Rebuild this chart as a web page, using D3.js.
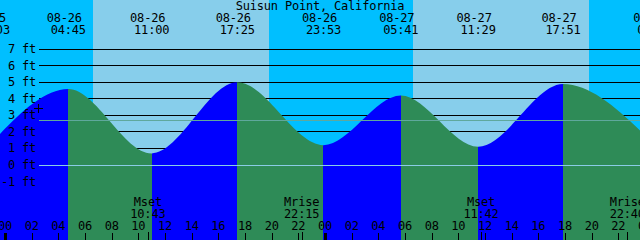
<!DOCTYPE html>
<html><head><meta charset="utf-8">
<script src="https://cdn.jsdelivr.net/npm/d3@7"></script>
<style>
html,body{margin:0;padding:0;background:#fff;overflow:hidden}
svg{display:block}
text{font-family:"DejaVu Sans Mono",monospace;font-size:12px;fill:#000;letter-spacing:-0.2px}
</style>
</head><body>
<svg id="c" width="640" height="240"></svg>
<script>
// ---------- data ----------
const title = "Suisun Point, California";
const tideDates   = ["08-25","08-26","08-26","08-26","08-26","08-27","08-27","08-27","08-28"];
const tideTimes   = ["23:03","04:45","11:00","17:25","23:53","05:41","11:29","17:51","00:44"];
const tideHeights = [1.4, 4.6, 0.7, 5.0, 1.2, 4.2, 1.1, 4.9, 1.2];
const sunDates  = ["08-26","08-26","08-27","08-27"];
const sunTimes  = ["06:36","19:48","06:36","19:46"];   // rise, set, rise, set
const moonLabels = ["Mset","Mrise","Mset","Mrise"];
const moonDates  = ["08-26","08-26","08-27","08-27"];
const moonTimes  = ["10:43","22:15","11:42","22:40"];
const levelTicks = [7,6,5,4,3,2,1,0,-1];
const gridLevels = [7,6,5,4,3,2,1];
const datumLevel = 0;
const meanLevel  = 2.7;
const markDate = "08-26", markTime = "02:27", markHeight = 3.47;
const viewStart = "08-25 23:37:30", viewEnd = "08-27 23:37:30";

// ---------- helpers ----------
const YEAR = "2000";
const parse = d3.timeParse("%Y-%m-%d %H:%M");
const parseS = d3.timeParse("%Y-%m-%d %H:%M:%S");
const toDate = (d,t) => parse(`${YEAR}-${d} ${t}`);

const W = 640, H = 240;
const x = d3.scaleTime()
  .domain([parseS(`${YEAR}-${viewStart}`), parseS(`${YEAR}-${viewEnd}`)])
  .range([0, W]);
const y = d3.scaleLinear().domain([0, 7]).range([165, 49.3]);

const svg = d3.select("#c");
const C = {night:"#00BFFF", day:"#87CEEB", flood:"#0000FF", ebb:"#2E8B57",
           datum:"#8ACCE6", mean:"#5FA89C", fg:"#000"};

// sky
svg.append("rect").attr("width",W).attr("height",H).attr("fill",C.night);
const sun = sunDates.map((d,i)=>toDate(d,sunTimes[i]));
for (let i=0;i<sun.length;i+=2){
  const x0 = Math.round(x(sun[i])), x1 = Math.round(x(sun[i+1]));
  svg.append("rect").attr("x",x0).attr("y",0).attr("width",x1-x0).attr("height",H)
     .attr("fill",C.day).attr("shape-rendering","crispEdges");
}

// grid lines
svg.append("g").selectAll("line").data(gridLevels).join("line")
  .attr("x1",39).attr("x2",W)
  .attr("y1",d=>Math.floor(y(d))+0.5).attr("y2",d=>Math.floor(y(d))+0.5)
  .attr("stroke",C.fg).attr("stroke-width",1).attr("shape-rendering","crispEdges");

// tide
const pts = tideDates.map((d,i)=>({date:toDate(d,tideTimes[i]), h:tideHeights[i]}));
const area = d3.area().x(d=>x(d.date)).y0(H).y1(d=>y(d.h)).curve(d3.curveMonotoneX);
svg.append("defs").append("clipPath").attr("id","tide")
  .append("path").attr("d", area(pts));
const tg = svg.append("g").attr("clip-path","url(#tide)");
for (let i=0;i<pts.length-1;i++){
  const x0 = Math.round(x(pts[i].date)), x1 = Math.round(x(pts[i+1].date));
  tg.append("rect").attr("x",x0).attr("y",0).attr("width",x1-x0).attr("height",H)
    .attr("fill", pts[i+1].h > pts[i].h ? C.flood : C.ebb)
    .attr("shape-rendering","crispEdges");
}

// datum & mean lines
[[datumLevel,C.datum],[meanLevel,C.mean]].forEach(([v,c])=>{
  svg.append("line").attr("x1",39).attr("x2",W)
    .attr("y1",Math.floor(y(v))+0.5).attr("y2",Math.floor(y(v))+0.5)
    .attr("stroke",c).attr("stroke-width",1).attr("shape-rendering","crispEdges");
});

// level labels
svg.append("g").selectAll("text").data(levelTicks).join("text")
  .attr("x",36).attr("y",d=>y(d)+4).attr("text-anchor","end")
  .text(d=>`${d} ft`);

// title
svg.append("text").attr("x",320).attr("y",10).attr("text-anchor","middle").text(title);

// high/low labels
const hl = svg.append("g");
pts.forEach((p,i)=>{
  const px = x(p.date);
  hl.append("text").attr("x",px-4).attr("y",22).attr("text-anchor","middle").text(tideDates[i]);
  hl.append("text").attr("x",px).attr("y",34).attr("text-anchor","middle").text(tideTimes[i]);
});

// moon labels
const mg = svg.append("g");
moonLabels.forEach((m,i)=>{
  const px = x(toDate(moonDates[i],moonTimes[i]));
  mg.append("text").attr("x",px).attr("y",206).attr("text-anchor","middle").text(m);
  mg.append("text").attr("x",px).attr("y",218).attr("text-anchor","middle").text(moonTimes[i]);
  mg.append("line").attr("x1",Math.round(px)+0.5).attr("x2",Math.round(px)+0.5)
    .attr("y1",232).attr("y2",H).attr("stroke",C.fg).attr("shape-rendering","crispEdges");
});

// hour ticks & labels
const hours = d3.timeHour.every(2).range(toDate("08-25","22:00"), toDate("08-28","02:00"));
const fmtH = d3.timeFormat("%H");
const hg = svg.append("g");
hours.forEach(h=>{
  const px = x(h);
  const mid = h.getHours()===0;
  hg.append("text").attr("x",px).attr("y",230).attr("text-anchor","middle").text(fmtH(h));
  hg.append("rect").attr("x",Math.round(px)-(mid?1:0)).attr("y",233)
    .attr("width",mid?3:1).attr("height",H-233).attr("fill",C.fg)
    .attr("shape-rendering","crispEdges");
});

// current-time mark
const mx = Math.round(x(toDate(markDate,markTime))), my = Math.round(y(markHeight));
svg.append("path").attr("d",`M${mx-4},${my+0.5}H${mx+5}M${mx+0.5},${my-4}V${my+5}`)
  .attr("stroke",C.fg).attr("fill","none").attr("shape-rendering","crispEdges");
</script>
</body></html>
